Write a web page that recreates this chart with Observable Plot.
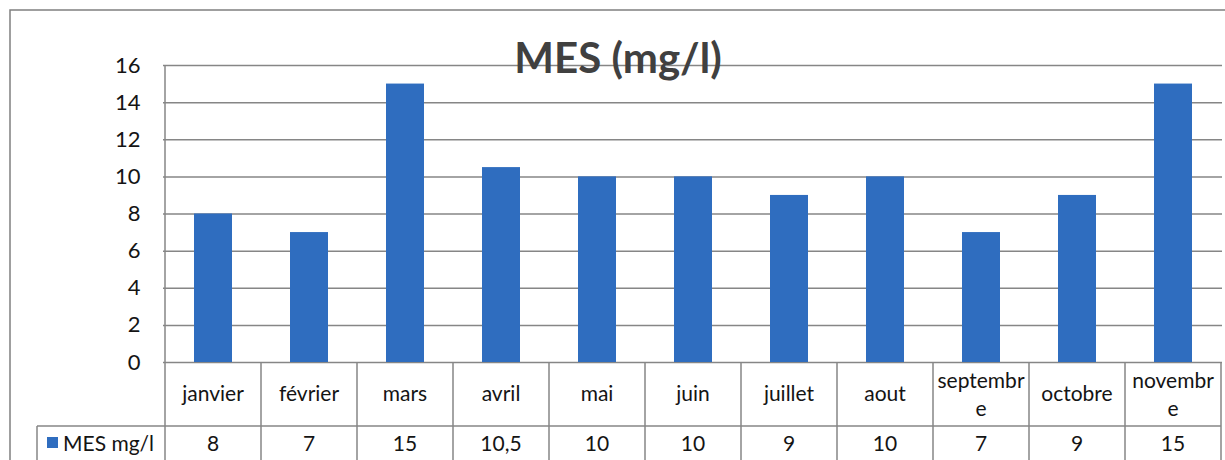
<!DOCTYPE html>
<html>
<head>
<meta charset="utf-8">
<script src="https://cdn.jsdelivr.net/npm/d3@7"></script>
<script src="https://cdn.jsdelivr.net/npm/@observablehq/plot@0.6"></script>
<style>
  html, body { margin: 0; padding: 0; background: #fff; }
  #chart { width: 1225px; height: 460px; overflow: hidden; }
</style>
</head>
<body>
<div id="chart"></div>
<script>
const months = ["janvier", "février", "mars", "avril", "mai", "juin", "juillet", "aout", "septembre", "octobre", "novembre"];
const monthLabels = [["janvier"], ["février"], ["mars"], ["avril"], ["mai"], ["juin"], ["juillet"], ["aout"], ["septembr", "e"], ["octobre"], ["novembr", "e"]];
const values = [8, 7, 15, 10.5, 10, 10, 9, 10, 7, 9, 15];
const valueLabels = ["8", "7", "15", "10,5", "10", "10", "9", "10", "7", "9", "15"];
const yTicks = [0, 2, 4, 6, 8, 10, 12, 14, 16];
const seriesName = "MES mg/l";
const title = "MES (mg/l)";

const data = months.map((m, i) => ({month: m, value: values[i]}));

const FONT = "Lato, 'Open Sans', sans-serif";
const BLUE = "#2f6dbf";
const GRID = "#868686";
const INK = "#141414";

const chart = Plot.plot({
  width: 1225,
  height: 460,
  marginLeft: 163,
  marginRight: 3,
  marginTop: 65,
  marginBottom: 98,
  style: {fontFamily: FONT, fontSize: "22px", color: INK, background: "#fff", overflow: "visible"},
  x: {domain: months, padding: 0, axis: null},
  y: {domain: [0, 16], ticks: yTicks, tickSize: 0, tickPadding: 23, label: null, tickFormat: d => String(d)},
  marks: [
    Plot.ruleY(yTicks, {stroke: GRID, strokeWidth: 1.5}),
    Plot.barY(data, {x: "month", y: "value", fill: BLUE, insetLeft: 29, insetRight: 29})
  ]
});

document.getElementById("chart").appendChild(chart);

// Data table and decorations positioned from Plot's own scales
const xs = chart.scale("x");
const ys = chart.scale("y");
const bw = xs.bandwidth;
const xLeft = xs.apply(months[0]);
const xRight = xs.apply(months[months.length - 1]) + bw;
const y0 = ys.apply(0);
const yTop = ys.apply(16);
const row1Bottom = y0 + 64;
const labelCellLeft = 37;

const svg = d3.select(chart);
const g = svg.append("g").attr("fill", "none").attr("stroke", GRID).attr("stroke-width", 1.5);

// outer chart border
g.append("path").attr("d", `M10,470V10H1230`).attr("stroke", "#808080");
// vertical axis line through the table
g.append("line").attr("x1", xLeft).attr("x2", xLeft).attr("y1", yTop).attr("y2", 470);
// band boundaries in table
months.forEach((m, i) => {
  const xb = xs.apply(m) + bw;
  g.append("line").attr("x1", xb).attr("x2", xb).attr("y1", y0).attr("y2", 470);
});
// horizontal row separator
g.append("line").attr("x1", labelCellLeft).attr("x2", xRight).attr("y1", row1Bottom).attr("y2", row1Bottom);
// label cell left border
g.append("line").attr("x1", labelCellLeft).attr("x2", labelCellLeft).attr("y1", row1Bottom).attr("y2", 470);

const t = svg.append("g").attr("font-family", FONT).attr("font-size", 21).attr("fill", INK).attr("text-anchor", "middle");
months.forEach((m, i) => {
  const cx = xs.apply(m) + bw / 2;
  const lines = monthLabels[i];
  if (lines.length === 1) {
    t.append("text").attr("x", cx).attr("y", 401).text(lines[0]);
  } else {
    t.append("text").attr("x", cx).attr("y", 388).text(lines[0]);
    t.append("text").attr("x", cx).attr("y", 416).text(lines[1]);
  }
  t.append("text").attr("x", cx).attr("y", 451).text(valueLabels[i]);
});

// legend key in table
svg.append("rect").attr("x", 47).attr("y", 437).attr("width", 11).attr("height", 11).attr("fill", BLUE);
svg.append("text").attr("x", 63).attr("y", 451).attr("text-anchor", "start")
  .attr("font-family", FONT).attr("font-size", 21).attr("fill", INK).text(seriesName);

// title
svg.append("text").attr("x", 618).attr("y", 73).attr("text-anchor", "middle")
  .attr("font-family", FONT).attr("font-size", 42).attr("font-weight", "bold").attr("fill", "#404040").text(title);
</script>
</body>
</html>
